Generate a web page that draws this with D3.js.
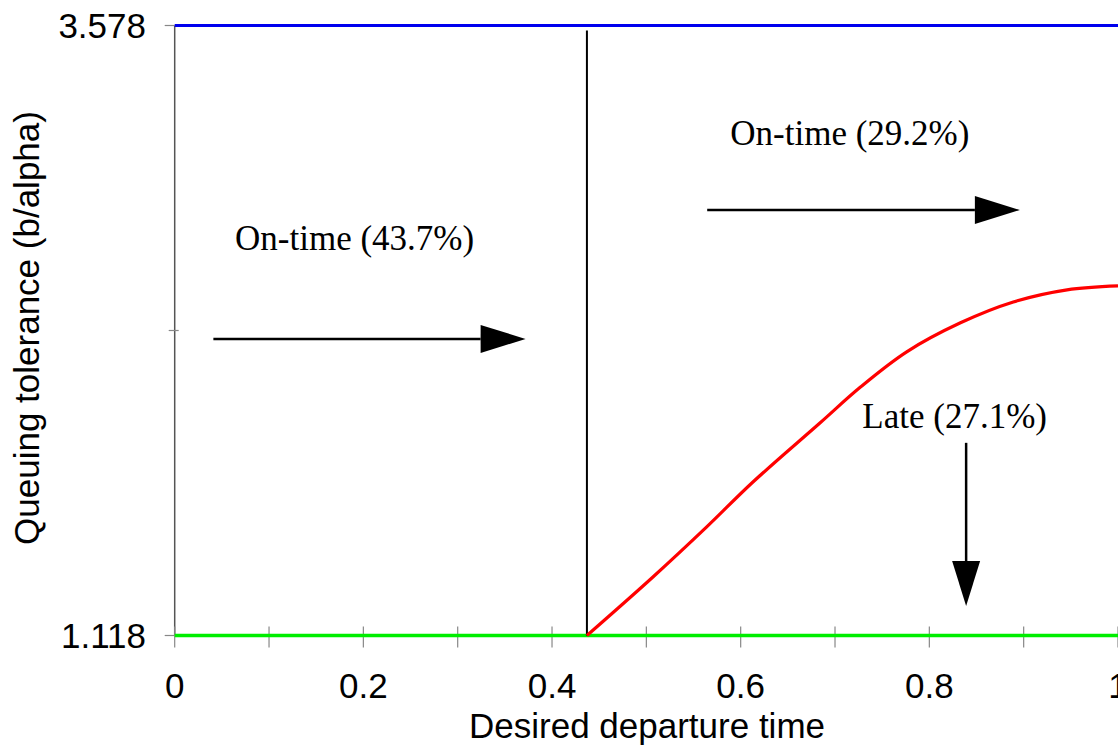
<!DOCTYPE html>
<html>
<head>
<meta charset="utf-8">
<script src="https://cdn.jsdelivr.net/npm/d3@7"></script>
<style>
  html, body { margin: 0; padding: 0; background: #fff; }
  svg { display: block; }
</style>
</head>
<body>
<script>
// ---------- data ----------
const xTickValues = [0, 0.1, 0.2, 0.3, 0.4, 0.5, 0.6, 0.7, 0.8, 0.9, 1.0];
const xTickLabeled = [0, 0.2, 0.4, 0.6, 0.8, 1.0];
const xTickLabels = ["0", "0.2", "0.4", "0.6", "0.8", "1"];
const yTickValues = [1.118, 2.348, 3.578];
const yTickLabels = ["1.118", "", "3.578"];
const yMin = 1.118, yMax = 3.578;
const threshold = 0.437;

const curveX = [0.437, 0.507, 0.564, 0.613, 0.684, 0.727, 0.776, 0.833, 0.889, 0.946, 1.0];
const curveY = [1.118, 1.354, 1.556, 1.737, 1.975, 2.120, 2.262, 2.379, 2.463, 2.512, 2.528];

const labelTexts = ["On-time (43.7%)", "On-time (29.2%)", "Late (27.1%)"];
const labelX = [0.064, 0.589, 0.729];
const labelY = [2.673, 3.097, 1.955];

const arrowX1 = [0.041, 0.5645, 0.839];
const arrowY1 = [2.314, 2.834, 1.895];
const arrowX2 = [0.372, 0.896, 0.839];
const arrowY2 = [2.314, 2.834, 1.237];

const xTitle = "Desired departure time";
const yTitle = "Queuing tolerance (b/alpha)";

// ---------- layout ----------
const W = 1118, H = 747;
const x = d3.scaleLinear().domain([0, 1]).range([174.7, 1118]);
const y = d3.scaleLinear().domain([yMin, yMax]).range([635.5, 25.5]);

const svg = d3.select("body").append("svg").attr("width", W).attr("height", H);
const sans = "'Liberation Sans', Arial, sans-serif";
const serif = "'Liberation Serif', 'Times New Roman', serif";

// y axis line
svg.append("line").attr("x1", x(0)).attr("x2", x(0)).attr("y1", y(yMax)).attr("y2", y(yMin))
  .attr("stroke", "#555").attr("stroke-width", 1.5);

// x ticks (crossing)
svg.append("g").selectAll("line").data(xTickValues).join("line")
  .attr("x1", d => x(d)).attr("x2", d => x(d))
  .attr("y1", y(yMin) - 9).attr("y2", y(yMin) + 12)
  .attr("stroke", "#888").attr("stroke-width", 1.2);

// y ticks
svg.append("g").selectAll("line").data(yTickValues).join("line")
  .attr("x1", (d, i) => i === 1 ? x(0) - 6 : x(0) - 10)
  .attr("x2", (d, i) => i === 1 ? x(0) + 4 : x(0))
  .attr("y1", d => y(d)).attr("y2", d => y(d))
  .attr("stroke", "#888").attr("stroke-width", 1.2);

// bottom green line and top blue line
svg.append("line").attr("x1", x(0)).attr("x2", x(1)).attr("y1", y(yMin)).attr("y2", y(yMin))
  .attr("stroke", "#00ee00").attr("stroke-width", 3.5);
svg.append("line").attr("x1", x(0)).attr("x2", x(1)).attr("y1", y(yMax)).attr("y2", y(yMax))
  .attr("stroke", "#0000ee").attr("stroke-width", 3);

// threshold vertical line
svg.append("line").attr("x1", x(threshold)).attr("x2", x(threshold))
  .attr("y1", y(yMax) + 5).attr("y2", y(yMin))
  .attr("stroke", "#000").attr("stroke-width", 2);

// red curve
const pts = curveX.map((v, i) => [v, curveY[i]]);
svg.append("path").datum(pts)
  .attr("d", d3.line().x(d => x(d[0])).y(d => y(d[1])).curve(d3.curveCatmullRom.alpha(0.5)))
  .attr("fill", "none").attr("stroke", "#ff0000").attr("stroke-width", 3.2);

// x tick labels
svg.append("g").selectAll("text").data(xTickLabeled).join("text")
  .attr("x", d => x(d)).attr("y", 698)
  .attr("text-anchor", "middle")
  .attr("font-family", sans).attr("font-size", 35).attr("fill", "#000")
  .text((d, i) => xTickLabels[i]);

// y tick labels
svg.append("g").selectAll("text").data(yTickValues).join("text")
  .attr("x", 146).attr("y", d => y(d) + 12)
  .attr("text-anchor", "end")
  .attr("font-family", sans).attr("font-size", 35).attr("fill", "#000")
  .text((d, i) => yTickLabels[i]);

// axis titles
svg.append("text").attr("x", 647).attr("y", 738).attr("text-anchor", "middle")
  .attr("font-family", sans).attr("font-size", 35).attr("fill", "#000").text(xTitle);
svg.append("text").attr("transform", "translate(39,328) rotate(-90)").attr("text-anchor", "middle")
  .attr("font-family", sans).attr("font-size", 35).attr("fill", "#000").text(yTitle);

// annotation labels
svg.append("g").selectAll("text").data(labelTexts).join("text")
  .attr("x", (d, i) => x(labelX[i])).attr("y", (d, i) => y(labelY[i]))
  .attr("font-family", serif).attr("font-size", 35).attr("fill", "#000")
  .text(d => d);

// arrows
const headLen = 45, headHalf = 14;
arrowX1.forEach((v, i) => {
  const ax1 = x(v), ay1 = y(arrowY1[i]), ax2 = x(arrowX2[i]), ay2 = y(arrowY2[i]);
  const dx = ax2 - ax1, dy = ay2 - ay1, len = Math.hypot(dx, dy);
  const ux = dx / len, uy = dy / len;
  const bx = ax2 - ux * headLen, by = ay2 - uy * headLen;
  svg.append("line").attr("x1", ax1).attr("y1", ay1).attr("x2", bx).attr("y2", by)
    .attr("stroke", "#000").attr("stroke-width", 2.5);
  svg.append("path")
    .attr("d", `M${ax2},${ay2} L${bx - uy * headHalf},${by + ux * headHalf} L${bx + uy * headHalf},${by - ux * headHalf} Z`)
    .attr("fill", "#000");
});
</script>
</body>
</html>
